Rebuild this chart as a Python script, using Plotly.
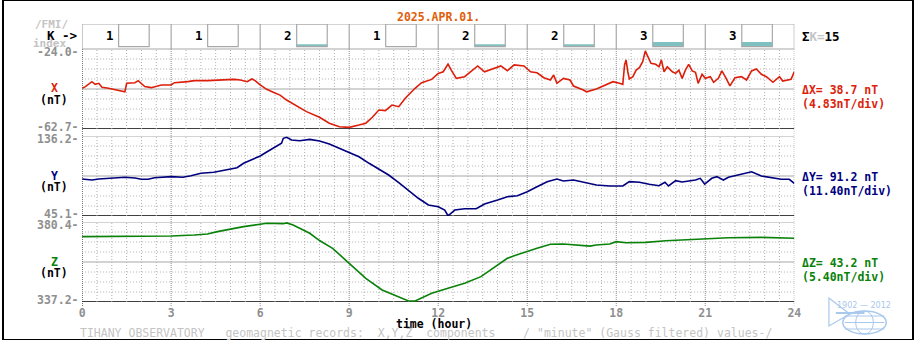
import plotly.graph_objects as go

# ---------------------------------------------------------------- data
DATE_LABEL = "2025.APR.01."
K_VALUES = [1, 1, 2, 1, 2, 2, 3, 3]          # 3-hourly K index
K_SUM = 15
HOUR_TICKS = [0, 3, 6, 9, 12, 15, 18, 21, 24]

X_RANGE = (-62.7, -24.0)
Y_RANGE = (45.1, 136.2)
Z_RANGE = (337.2, 380.4)
DELTAS = {"X": 38.7, "Y": 91.2, "Z": 43.2}
DIVS = {"X": "4.83", "Y": "11.40", "Z": "5.40"}

# (hour, nT)
X_SERIES = [
    (0.00, -43.0), (0.11, -42.2), (0.33, -39.8), (0.44, -41.1), (0.56, -40.6),
    (0.67, -42.5), (0.89, -43.0), (1.11, -43.8), (1.33, -44.3), (1.44, -44.7),
    (1.50, -40.6), (1.78, -40.3), (1.89, -39.3), (2.00, -40.6), (2.11, -42.2),
    (2.33, -42.7), (2.67, -41.4), (3.00, -41.4), (3.11, -40.3), (3.56, -39.8),
    (3.78, -39.3), (4.22, -39.3), (4.56, -39.0), (5.11, -38.7), (5.33, -39.0),
    (5.56, -39.8), (5.72, -38.5), (5.83, -39.3), (6.00, -41.4), (6.22, -43.5),
    (6.44, -44.9), (6.67, -46.3), (6.89, -48.7), (7.22, -51.6), (7.56, -54.3),
    (8.00, -57.0), (8.33, -59.9), (8.67, -61.6), (9.00, -61.9), (9.33, -60.8),
    (9.56, -59.9), (9.78, -57.0), (10.00, -53.5), (10.22, -53.8), (10.44, -51.1),
    (10.67, -51.9), (10.89, -47.8), (11.22, -43.0), (11.44, -40.3), (11.78, -38.7),
    (12.00, -35.8), (12.17, -35.0), (12.33, -31.3), (12.44, -34.2), (12.61, -38.2),
    (12.89, -37.4), (13.11, -35.0), (13.33, -32.2), (13.56, -35.0), (13.78, -33.8),
    (14.11, -32.2), (14.33, -34.5), (14.56, -31.7), (14.89, -32.2), (15.11, -35.0),
    (15.33, -35.5), (15.56, -37.9), (15.78, -39.0), (15.89, -36.6), (16.00, -40.6),
    (16.22, -38.2), (16.44, -39.0), (16.56, -41.9), (16.89, -43.8), (17.00, -44.7),
    (17.33, -43.3), (17.56, -41.9), (17.78, -40.6), (17.89, -39.8), (18.11, -40.6),
    (18.22, -41.1), (18.28, -31.7), (18.33, -29.3), (18.39, -35.0), (18.44, -38.5),
    (18.56, -37.4), (18.67, -34.2), (18.78, -33.0), (18.89, -30.1), (18.98, -25.0),
    (19.06, -27.7), (19.17, -30.9), (19.33, -31.4), (19.44, -32.6), (19.52, -29.3),
    (19.61, -35.0), (19.72, -32.6), (19.89, -35.0), (20.00, -35.8), (20.11, -34.2),
    (20.22, -38.2), (20.33, -34.2), (20.44, -31.4), (20.56, -34.6), (20.67, -35.3),
    (20.76, -40.6), (20.89, -36.2), (21.00, -38.2), (21.17, -37.4), (21.28, -40.1),
    (21.44, -38.2), (21.56, -34.6), (21.69, -37.9), (21.83, -41.8), (22.00, -37.9),
    (22.22, -37.4), (22.39, -39.0), (22.56, -34.6), (22.72, -33.7), (22.89, -36.2),
    (23.06, -37.4), (23.28, -40.1), (23.50, -37.4), (23.61, -39.5), (23.89, -38.7),
    (24.00, -35.0),
]

Y_SERIES = [
    (0.00, 87.2), (0.33, 86.1), (0.56, 87.2), (1.11, 88.0), (1.44, 89.2),
    (1.78, 88.4), (2.00, 86.9), (2.22, 86.9), (2.44, 88.7), (3.00, 89.9),
    (3.39, 89.2), (3.67, 91.0), (4.00, 93.7), (4.44, 94.9), (4.89, 97.5),
    (5.22, 100.1), (5.44, 105.1), (5.78, 110.4), (6.00, 113.4), (6.22, 118.0),
    (6.56, 124.8), (6.72, 127.9), (6.78, 133.6), (6.89, 134.7), (7.06, 131.6),
    (7.33, 130.8), (7.67, 132.4), (8.00, 130.6), (8.33, 127.1), (8.67, 122.2),
    (9.00, 117.6), (9.33, 112.6), (9.67, 105.1), (10.00, 98.3), (10.33, 91.8),
    (10.67, 83.0), (11.00, 73.6), (11.33, 65.3), (11.67, 57.6), (12.00, 55.7),
    (12.22, 51.9), (12.33, 45.4), (12.56, 51.9), (12.89, 53.4), (13.28, 53.4),
    (13.56, 58.8), (14.00, 63.3), (14.33, 67.1), (14.67, 68.2), (15.00, 72.8),
    (15.33, 78.5), (15.67, 84.2), (16.00, 87.2), (16.22, 85.0), (16.56, 86.1),
    (16.89, 83.5), (17.33, 80.4), (17.78, 79.3), (18.22, 79.3), (18.44, 84.2),
    (18.78, 83.5), (19.11, 81.2), (19.44, 79.6), (19.64, 83.5), (19.76, 79.3),
    (20.00, 85.3), (20.22, 83.8), (20.67, 86.1), (20.83, 88.0), (20.98, 81.5),
    (21.22, 88.0), (21.39, 89.9), (21.61, 86.1), (21.78, 89.2), (22.11, 91.8),
    (22.44, 94.4), (22.56, 95.5), (22.89, 90.6), (23.22, 88.7), (23.56, 86.9),
    (23.83, 86.9), (24.00, 82.3),
]

Z_SERIES = [
    (0.00, 372.5), (3.00, 372.8), (3.78, 373.4), (4.22, 373.9), (4.56, 375.2),
    (5.00, 376.6), (5.44, 377.9), (6.00, 379.2), (6.22, 379.7), (6.78, 379.5),
    (6.89, 379.9), (7.11, 378.8), (7.33, 377.0), (7.67, 374.3), (8.00, 370.4),
    (8.44, 366.2), (9.00, 358.1), (9.56, 350.0), (10.11, 343.7), (10.67, 340.1),
    (11.00, 337.7), (11.22, 337.7), (11.44, 339.2), (11.78, 341.9), (12.33, 344.6),
    (12.89, 347.3), (13.44, 350.9), (14.00, 357.2), (14.33, 360.8), (14.56, 362.2),
    (14.89, 364.0), (15.33, 366.2), (15.78, 368.4), (16.22, 368.5), (17.11, 367.4),
    (17.33, 368.0), (17.78, 368.5), (18.00, 369.8), (18.33, 369.2), (19.00, 369.4),
    (19.67, 370.3), (20.67, 371.2), (21.78, 371.9), (22.89, 372.1), (24.00, 371.6),
]

# ---------------------------------------------------------------- styling
W, H = 920, 340
FONT = "DejaVu Sans Mono"
RED, NAVY, GREEN = "#dc1e0a", "#00007f", "#0a820a"
ORANGE = "#e0600a"
GRID = "#b0b0b0"
GRID_MAJOR = "#8c8c8c"
FRAME = "#a8a8a8"
LABEL_GREY = "#8f8f8f"
LIGHT_GREY = "#c4c4c4"
TEAL = "#80c0c0"
LOGO = "#a8c8ec"

# panel pixel extents (top, bottom)
K_PX = (24, 49)
X_PX = (49, 129)
Y_PX = (136, 216)
Z_PX = (222, 302)
PLOT_X = (80, 800)


def px(x):
    return x / W


def py(y):
    return 1 - y / H


def dom(extent):
    return [py(extent[1]), py(extent[0])]


def unzip(series):
    return [p[0] for p in series], [p[1] for p in series]


fig = go.Figure()

panels = [
    ("X", X_SERIES, X_RANGE, X_PX, "y", RED),
    ("Y", Y_SERIES, Y_RANGE, Y_PX, "y2", NAVY),
    ("Z", Z_SERIES, Z_RANGE, Z_PX, "y3", GREEN),
]

shapes = []
annotations = []

for name, series, rng, ext, yref, color in panels:
    lo, hi = rng
    # horizontal grid: 8 divisions
    for i in range(9):
        level = lo + (hi - lo) * i / 8
        if i == 0:
            line = dict(color="black", width=1.5)
        elif i in (4, 8):
            line = dict(color=FRAME, width=1.2)
        else:
            line = dict(color=GRID, width=1, dash="1px,2px")
        shapes.append(dict(type="line", xref="x", yref=yref, x0=0, x1=24,
                           y0=level, y1=level, line=line, layer="below"))
    # half-hour vertical grid
    for m in range(49):
        h = m / 2
        if h % 3 == 0:
            continue
        shapes.append(dict(type="line", xref="x", yref=yref, x0=h, x1=h,
                           y0=lo, y1=hi, layer="below",
                           line=dict(color=GRID, width=1, dash="1px,2px")))

    hours, values = unzip(series)
    fig.add_trace(go.Scatter(x=hours, y=values, mode="lines", yaxis=yref,
                             line=dict(color=color, width=1.6),
                             hoverinfo="skip"))

    # range labels on the left
    annotations.append(dict(text=f"<b>{hi:.1f}-</b>", x=px(78), y=py(ext[0] + 3),
                            xanchor="right", font=dict(color=LABEL_GREY)))
    annotations.append(dict(text=f"<b>{lo:.1f}-</b>", x=px(78), y=py(ext[1] - 2.5),
                            xanchor="right", font=dict(color=LABEL_GREY)))
    # component name and unit
    mid = (ext[0] + ext[1]) / 2
    annotations.append(dict(text=f"<b>{name}</b>", x=px(52), y=py(mid - 0.5),
                            font=dict(color=color)))
    annotations.append(dict(text="<b>(nT)</b>", x=px(52), y=py(mid + 11),
                            font=dict(color="black")))
    # amplitude and scale on the right
    annotations.append(dict(text=f"<b>\u0394{name}= {DELTAS[name]} nT</b>",
                            x=px(807), y=py(mid + 1), xanchor="left",
                            font=dict(color=color)))
    annotations.append(dict(text=f"<b>({DIVS[name]}nT/div)</b>",
                            x=px(807), y=py(mid + 15), xanchor="left",
                            font=dict(color=color)))

# 3-hour dotted lines running through all panels
for h in HOUR_TICKS:
    shapes.append(dict(type="line", xref="x", yref="paper", x0=h, x1=h,
                       y0=py(306), y1=py(K_PX[1]), layer="below",
                       line=dict(color="black" if h == 0 else GRID_MAJOR,
                                 width=1, dash="1px,1px")))

# K index strip
K_TOP = K_PX[1] - K_PX[0]
BOX_BASE = 2.3
for h in HOUR_TICKS:
    shapes.append(dict(type="line", xref="x", yref="y4", x0=h, x1=h,
                       y0=0, y1=K_TOP, line=dict(color=FRAME, width=1.2)))
for lvl in (0, K_TOP):
    shapes.append(dict(type="line", xref="x", yref="y4", x0=0, x1=24,
                       y0=lvl, y1=lvl, line=dict(color=FRAME, width=1.2)))

k_centres = []
for i, k in enumerate(K_VALUES):
    start = 3 * i
    shapes.append(dict(type="rect", xref="x", yref="y4",
                       x0=start + 1.23, x1=start + 2.26, y0=BOX_BASE, y1=K_TOP,
                       line=dict(color=FRAME, width=1.2)))
    k_centres.append(start + 1.745)
    annotations.append(dict(text=f"<b>{k}</b>", xref="x",
                            x=start + 0.95, y=py(35.5),
                            font=dict(color="black", size=12.5)))

fig.add_trace(go.Bar(x=k_centres, y=[(k - 1) * 2.35 for k in K_VALUES],
                     base=BOX_BASE, width=1.03, yaxis="y4",
                     marker=dict(color=TEAL, line=dict(width=0)),
                     hoverinfo="skip"))

# captions
annotations += [
    dict(text="<b>/FMI/</b>", x=px(49), y=py(25), font=dict(color=LIGHT_GREY, size=11)),
    dict(text="<b>K -></b>", x=px(60), y=py(35.5), font=dict(color="black", size=12.5)),
    dict(text="<b>index</b>", x=px(47), y=py(43), font=dict(color=LIGHT_GREY, size=11)),
    dict(text=f"<b>\u03a3<span style='color:{LIGHT_GREY}'>K=</span>{K_SUM}</b>",
         x=px(807), y=py(36.5), xanchor="left", font=dict(color="black", size=12.5)),
    dict(text=f"<b>{DATE_LABEL}</b>", x=px(440), y=py(16.5),
         font=dict(color=ORANGE)),
    dict(text="<b>time (hour)</b>", x=px(436), y=py(323.5),
         font=dict(color="black")),
    dict(text='TIHANY OBSERVATORY   geomagnetic records:  X,Y,Z  components    '
              '/ "minute" (Gauss filtered) values-/',
         x=px(77), y=py(333), xanchor="left",
         font=dict(color=LIGHT_GREY, size=11.5)),
    dict(text="1902 \u2014 2012", x=px(870), y=py(305.5),
         font=dict(color=LOGO, size=8, family="DejaVu Sans")),
]
for a in annotations:
    a.setdefault("xref", "paper")
    a.setdefault("yref", "paper")
    a.setdefault("xanchor", "center")
    a.setdefault("yanchor", "middle")
    a.setdefault("showarrow", False)
    a.setdefault("borderpad", 0)
    f = a.setdefault("font", {})
    f.setdefault("family", FONT)
    f.setdefault("size", 11.5)

# observatory logo: horn and globe
shapes.append(dict(type="path", xref="paper", yref="paper",
                   path=(f"M {px(835)},{py(298)} L {px(856)},{py(314)} "
                         f"L {px(835)},{py(326)} Z"),
                   line=dict(color=LOGO, width=1.2)))
shapes.append(dict(type="circle", xref="paper", yref="paper",
                   x0=px(849), x1=px(893), y0=py(334), y1=py(311),
                   line=dict(color=LOGO, width=1.5)))
for yy in (316, 322.5, 329):
    shapes.append(dict(type="line", xref="paper", yref="paper",
                       x0=px(851), x1=px(891), y0=py(yy), y1=py(yy),
                       line=dict(color=LOGO, width=1)))
shapes.append(dict(type="circle", xref="paper", yref="paper",
                   x0=px(862), x1=px(880), y0=py(334), y1=py(311),
                   line=dict(color=LOGO, width=1)))
shapes.append(dict(type="line", xref="paper", yref="paper",
                   x0=px(842), x1=px(871), y0=py(313), y1=py(313),
                   line=dict(color=LOGO, width=2)))

# outer frame
shapes.append(dict(type="rect", xref="paper", yref="paper", x0=0, x1=1, y0=0, y1=1,
                   line=dict(color="black", width=2)))

hidden = dict(showgrid=False, zeroline=False, showticklabels=False,
              showline=False, ticks="", fixedrange=True)

fig.update_layout(
    width=W, height=H,
    margin=dict(l=0, r=0, t=0, b=0),
    paper_bgcolor="white", plot_bgcolor="rgba(0,0,0,0)",
    showlegend=False, hovermode=False, barmode="overlay",
    xaxis=dict(domain=[px(PLOT_X[0]), px(PLOT_X[1])], range=[0, 24],
               anchor="y3", showgrid=False, zeroline=False, showline=False,
               ticks="", tickvals=HOUR_TICKS,
               ticktext=[f"<b>{h}</b>" for h in HOUR_TICKS],
               tickfont=dict(family=FONT, size=11.5, color=LABEL_GREY),
               ticklabelstandoff=2, fixedrange=True),
    yaxis=dict(domain=dom(X_PX), range=list(X_RANGE), **hidden),
    yaxis2=dict(domain=dom(Y_PX), range=list(Y_RANGE), **hidden),
    yaxis3=dict(domain=dom(Z_PX), range=list(Z_RANGE), **hidden),
    yaxis4=dict(domain=dom(K_PX), range=[0, K_TOP], **hidden),
    shapes=shapes,
    annotations=annotations,
)

fig.write_html("out.html")
